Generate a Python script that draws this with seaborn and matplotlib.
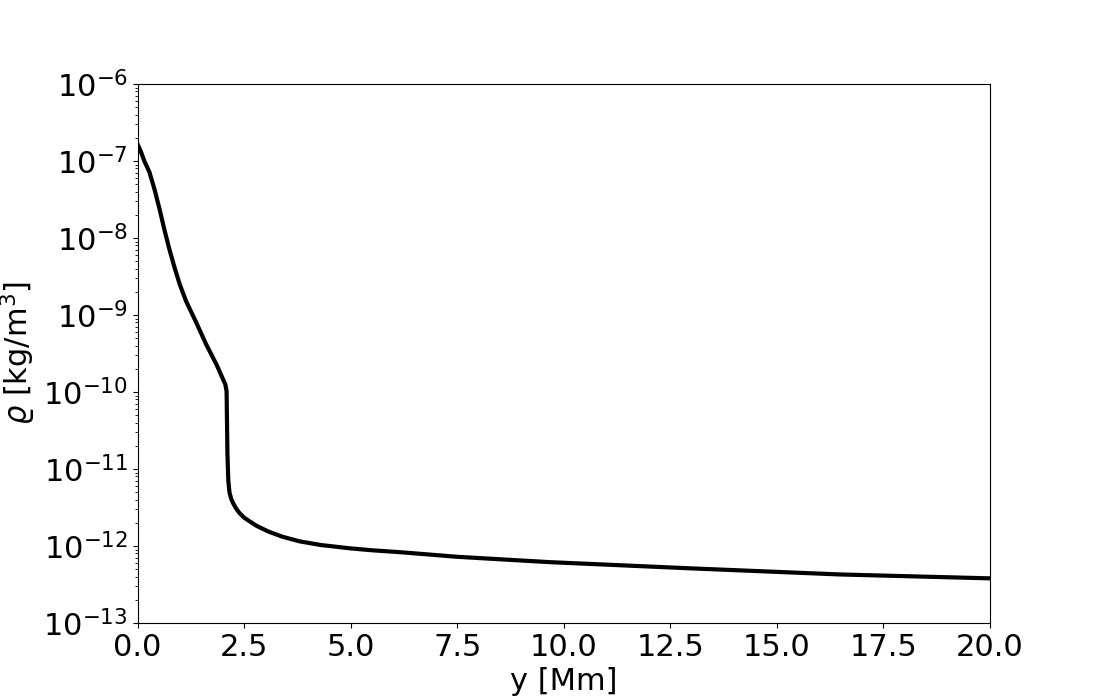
import numpy as np
import pandas as pd
import seaborn as sns
import matplotlib
matplotlib.use('Agg')
import matplotlib.pyplot as plt

# altura [Mm] e densidade [kg/m^3]
y_mm = [0.0, 0.08, 0.16, 0.28, 0.40, 0.52, 0.63, 0.75, 0.87, 0.99, 1.14,
        1.38, 1.61, 1.85, 2.06, 2.09, 2.10, 2.11, 2.13, 2.16, 2.20, 2.24,
        2.31, 2.39, 2.50, 2.63, 2.80, 3.06, 3.40, 3.80, 4.30, 4.98, 5.50, 6.15,
        7.50, 9.67, 12.96, 16.48, 20.0]
rho = [1.66e-7, 1.32e-7, 1.0e-7, 7.16e-8, 4.27e-8, 2.34e-8, 1.29e-8, 7.08e-9, 4.12e-9, 2.51e-9, 1.51e-9,
       7.94e-10, 4.17e-10, 2.29e-10, 1.26e-10, 1.02e-10, 3.98e-11, 1.58e-11, 7.08e-12, 4.90e-12, 4.07e-12, 3.63e-12,
       3.09e-12, 2.69e-12, 2.34e-12, 2.09e-12, 1.82e-12, 1.55e-12, 1.32e-12, 1.15e-12, 1.03e-12, 9.33e-13, 8.80e-13, 8.32e-13,
       7.24e-13, 6.17e-13, 5.13e-13, 4.27e-13, 3.80e-13]

db = pd.DataFrame({'y': y_mm, 'rho': rho})

fig, ax = plt.subplots(figsize=(11, 7), dpi=100)
sns.lineplot(x='y', y='rho', data=db, color='black', linewidth=3, estimator=None, ax=ax)
ax.set_yscale('log')
ax.set_xlim(0, 20)
ax.set_ylim(1e-13, 1e-6)
ax.set_xlabel("y [Mm]", fontsize=22)
ax.set_ylabel(r"$\varrho$ [kg/m$^3$]", fontsize=22)
ax.tick_params(axis='both', labelsize=22)
plt.savefig('out.png', dpi=100)
